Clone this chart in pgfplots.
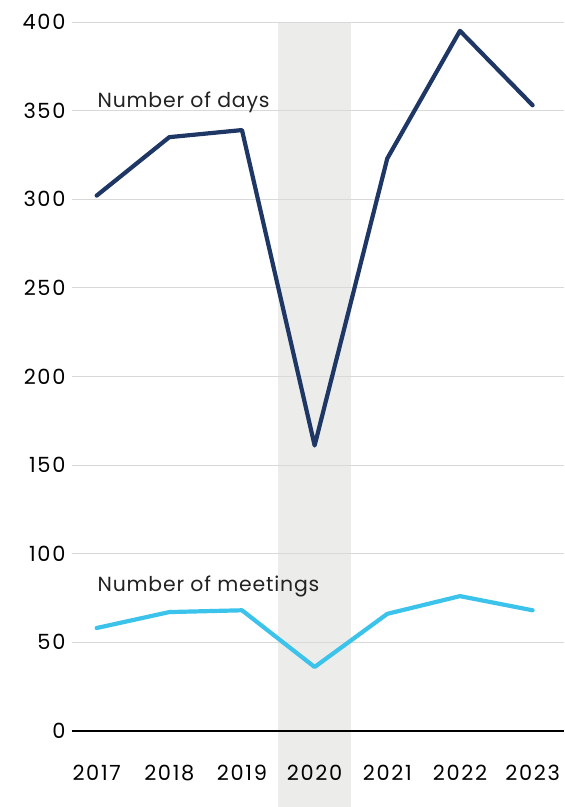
\documentclass[border=0pt]{standalone}
\usepackage{pgfplots}
\pgfplotsset{compat=1.18}
\usepackage{fontspec}
\setmainfont{Poppins}
\newfontfamily\tickfont{Poppins}[LetterSpace=8]
\newfontfamily\labfont{Poppins}[LetterSpace=4]
\definecolor{navy}{HTML}{1F3765}
\definecolor{sky}{HTML}{3BC3EB}
\definecolor{band}{HTML}{ECECEA}
\definecolor{gridc}{HTML}{D9D9D9}
\definecolor{txt}{HTML}{222222}
\begin{document}
\begin{tikzpicture}
\pgfplotsset{set layers}
\begin{axis}[
  scale only axis,
  width=492bp, height=709bp,
  xmin=2016.66, xmax=2023.43,
  ymin=0, ymax=400,
  clip=false,
  xtick={2017,2018,2019,2020,2021,2022,2023},
  xticklabels={2017,2018,2019,2020,2021,2022,2023},
  ytick={0,50,100,150,200,250,300,350,400},
  /pgf/number format/assume math mode=true,
  ymajorgrids,
  grid style={gridc, line width=0.9bp},
  axis line style={draw=none},
  major tick length=0pt,
  tick style={draw=none},
  every tick label/.append style={font=\tickfont\fontsize{21}{24}\selectfont, text=black},
  xticklabel style={yshift=-31bp},
  yticklabel style={xshift=-3bp},
]
\addplot[fill=band, draw=none, on layer=axis background] coordinates {(2019.5,-43) (2020.5,-43) (2020.5,400) (2019.5,400)} -- cycle;
\addplot[black, line width=2.2bp] coordinates {(2016.66,0) (2023.43,0)};
\addplot[navy, line width=4.2bp, line join=round, line cap=round] coordinates {
(2017,302) (2018,335) (2019,339) (2020,161) (2021,323) (2022,395) (2023,353)};
\addplot[sky, line width=4.2bp, line join=round, line cap=round] coordinates {
(2017,58) (2018,67) (2019,68) (2020,36) (2021,66) (2022,76) (2023,68)};
\node[anchor=base west, inner sep=0, text=txt, font=\labfont\fontsize{20.5}{24}\selectfont] at (axis cs:2017.01,352) {Number of days};
\node[anchor=base west, inner sep=0, text=txt, font=\labfont\fontsize{20.5}{24}\selectfont] at (axis cs:2017.01,78.4) {Number of meetings};
\path (rel axis cs:-0.1463,-0.1072) rectangle (rel axis cs:1,1.031);
\end{axis}
\end{tikzpicture}
\end{document}
